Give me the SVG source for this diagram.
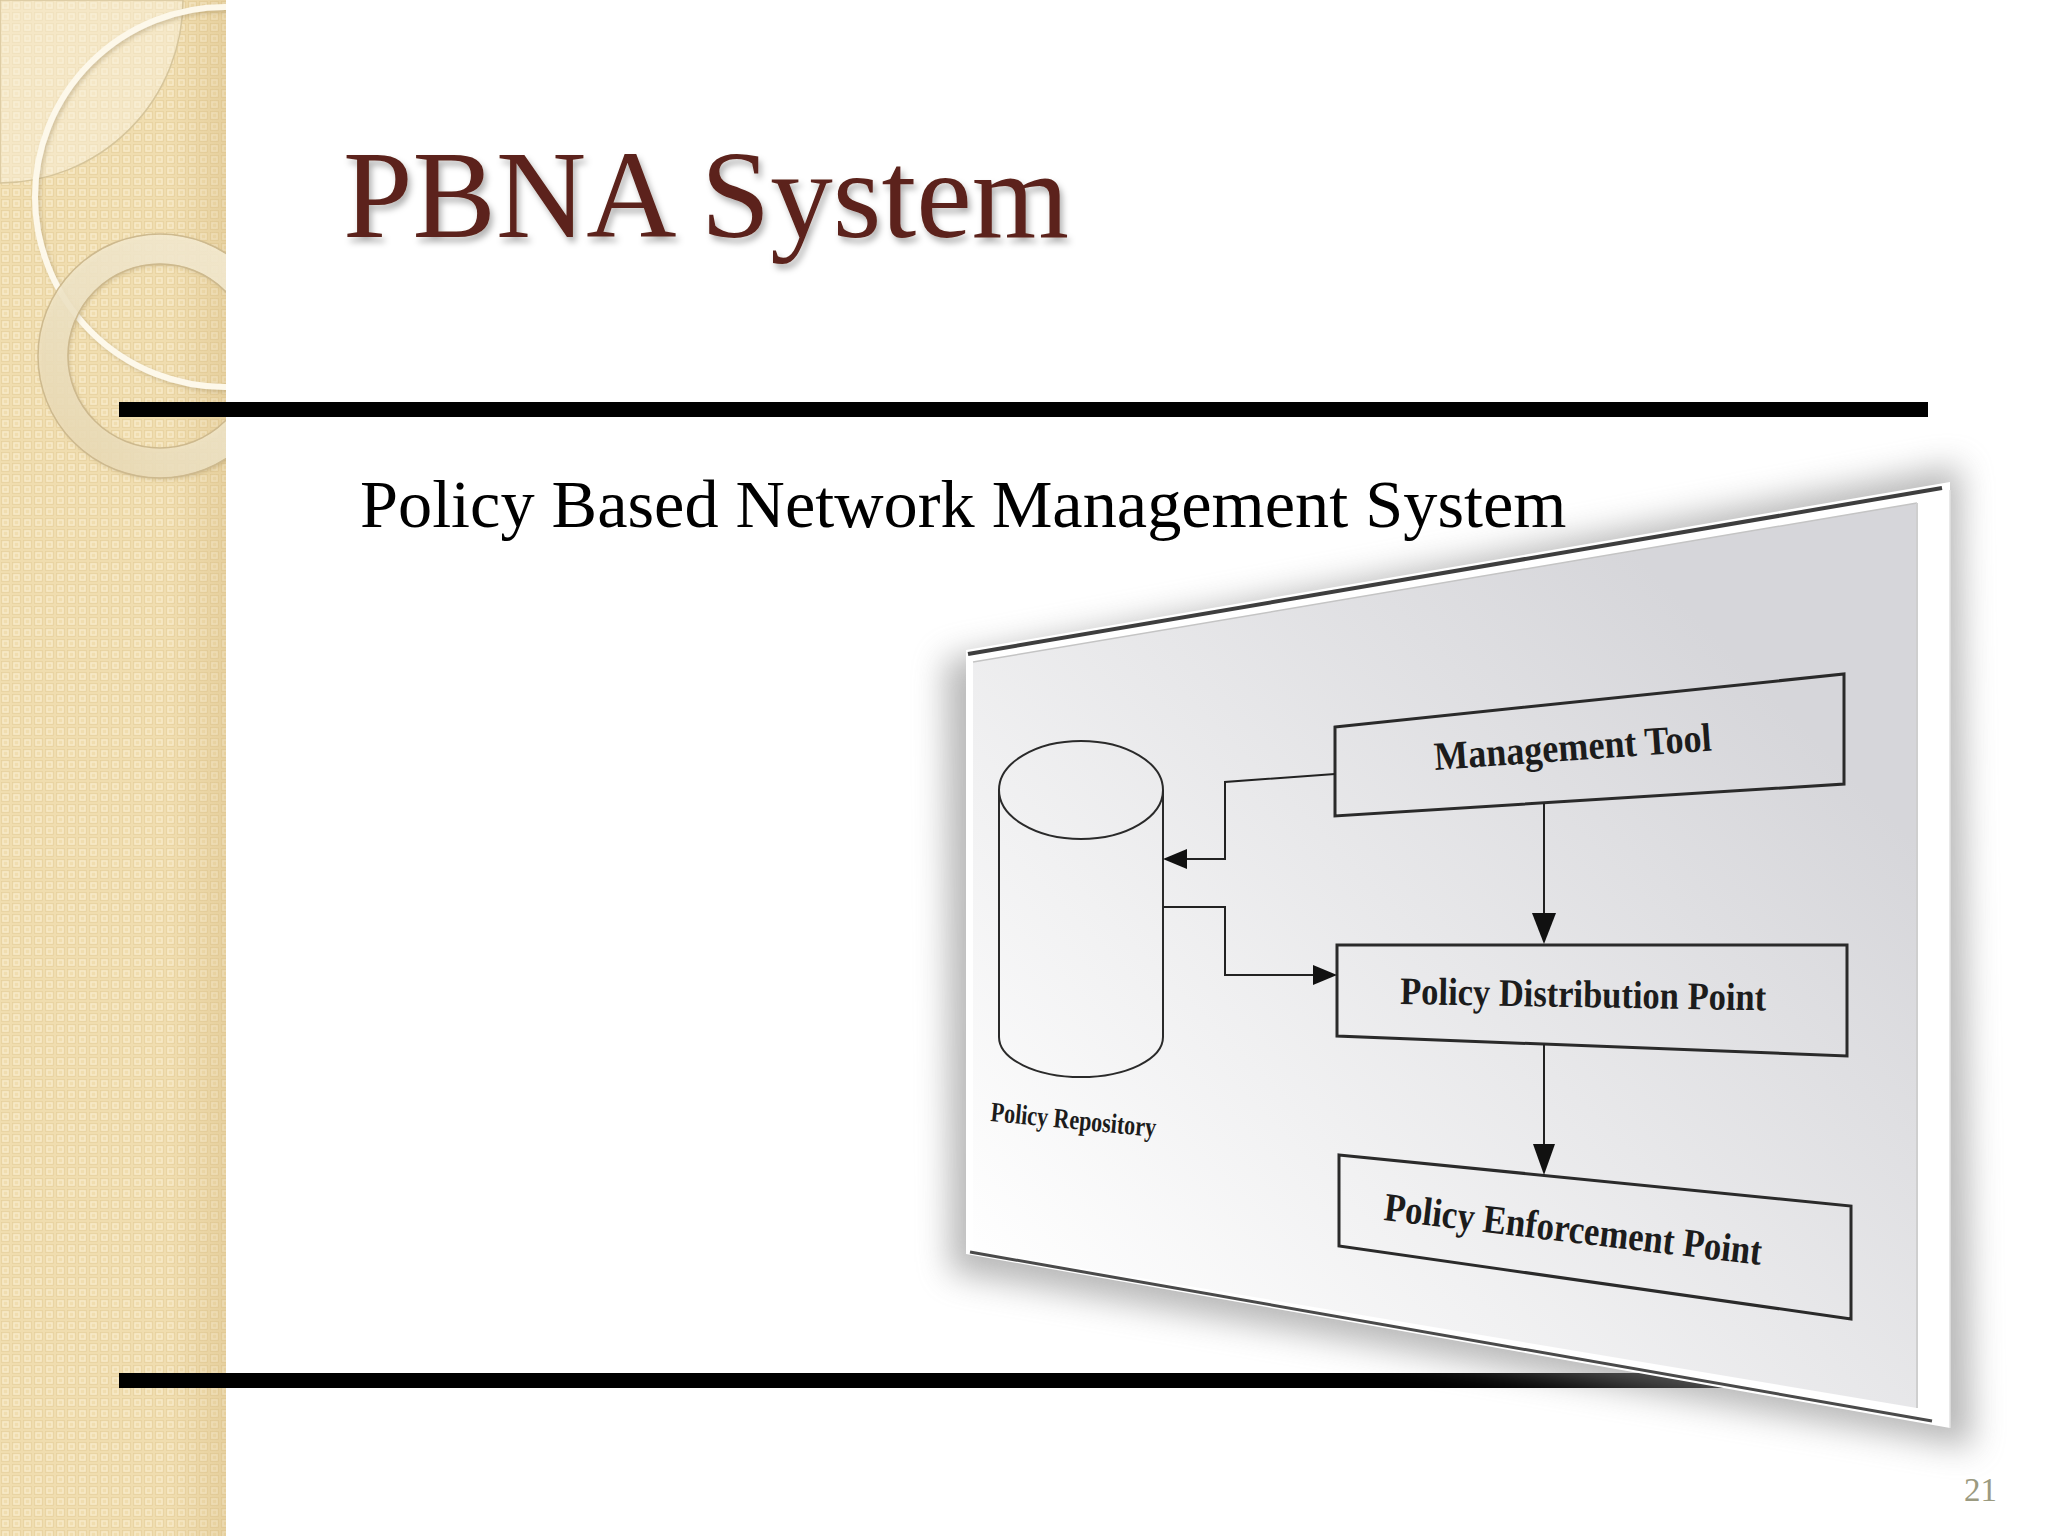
<svg xmlns="http://www.w3.org/2000/svg" width="2048" height="1536" viewBox="0 0 2048 1536">
<defs>
<style>
.box{fill:none;stroke:#2a2a2a;stroke-width:3}
.conn{fill:none;stroke:#222;stroke-width:2}
.head{fill:#111}
.lbl{font-family:"Liberation Serif","Times New Roman",serif;font-weight:bold;fill:#1c1c1c}
</style>
<pattern id="dots" width="11" height="11" patternUnits="userSpaceOnUse">
<rect width="11" height="11" fill="#f0ddaf"/>
<rect x="3" y="3" width="5" height="5" fill="none" stroke="#f8ebcb" stroke-width="1.3"/>
<rect x="1.5" y="1.5" width="8" height="8" fill="none" stroke="#e6d09e" stroke-width="0.7"/>
</pattern>
<linearGradient id="edge" x1="0" y1="0" x2="1" y2="0">
<stop offset="0" stop-color="#c9a86a" stop-opacity="0"/>
<stop offset="1" stop-color="#c9a86a" stop-opacity="0.25"/>
</linearGradient>
<linearGradient id="panelFill" gradientUnits="userSpaceOnUse" x1="1000" y1="1300" x2="1700" y2="620">
<stop offset="0" stop-color="#ffffff"/>
<stop offset="0.35" stop-color="#f1f1f2"/>
<stop offset="1" stop-color="#d6d6da"/>
</linearGradient>
<linearGradient id="ringFill" x1="1" y1="0" x2="0" y2="1">
<stop offset="0" stop-color="#f7eed6"/>
<stop offset="0.6" stop-color="#efe4c6"/>
<stop offset="1" stop-color="#ead9b2"/>
</linearGradient>
<filter id="blur" x="-20%" y="-20%" width="140%" height="140%"><feGaussianBlur stdDeviation="16"/></filter>
<filter id="tshadow" x="-5%" y="-20%" width="110%" height="150%"><feDropShadow dx="3" dy="5" stdDeviation="3" flood-color="#000" flood-opacity="0.3"/></filter>
<filter id="rshadow" x="-20%" y="-20%" width="140%" height="140%"><feDropShadow dx="2" dy="2" stdDeviation="2" flood-color="#8a7448" flood-opacity="0.35"/></filter>
<clipPath id="sideClip"><rect x="0" y="0" width="226" height="1536"/></clipPath>
</defs>

<rect width="2048" height="1536" fill="#ffffff"/>

<g id="sidebar" clip-path="url(#sideClip)">
<rect x="0" y="0" width="226" height="1536" fill="url(#dots)"/>
<rect x="170" y="0" width="56" height="1536" fill="url(#edge)"/>
<path d="M0,0 L183,0 A183,183 0 0 1 0,183 Z" fill="#fbf4e3" fill-opacity="0.45" stroke="#d6c59b" stroke-width="1.5"/>
<circle cx="225" cy="197" r="190" fill="none" stroke="#fdf8ea" stroke-width="6" filter="url(#rshadow)"/>
<circle cx="160" cy="356" r="107" fill="none" stroke="url(#ringFill)" stroke-opacity="0.85" stroke-width="29" filter="url(#rshadow)"/>
<circle cx="160" cy="356" r="122" fill="none" stroke="#cdb98e" stroke-width="1.5"/>
<circle cx="160" cy="356" r="92" fill="none" stroke="#cdb98e" stroke-width="1.5"/>
</g>

<g id="title">
<text x="343" y="237" font-family="'Liberation Serif','Times New Roman',serif" font-size="125" fill="#5b231a" filter="url(#tshadow)">PBNA System</text>
</g>

<g id="rules">
<rect x="119" y="402" width="1809" height="15" fill="#000"/>
<rect x="119" y="1373" width="1809" height="15" fill="#000"/>
</g>

<g id="subtitle">
<text x="360" y="527" font-family="'Liberation Serif','Times New Roman',serif" font-size="68.3" fill="#000">Policy Based Network Management System</text>
</g>

<g id="panel">
<polygon points="945,660 1960,465 1972,1448 950,1272" fill="#8a8a8a" opacity="0.6" filter="url(#blur)"/>
<polygon points="966,650 1950,482 1950,1428 966,1254" fill="#ffffff"/>
<polygon points="973,662 1917,503 1917,1408 973,1250" fill="url(#panelFill)"/>
<line x1="968" y1="654" x2="1942" y2="488" stroke="#3e3e3e" stroke-width="4"/>
<line x1="973" y1="662" x2="1917" y2="503" stroke="#c4c4c4" stroke-width="1.5"/>
<line x1="1917" y1="503" x2="1917" y2="1408" stroke="#cfcfcf" stroke-width="2"/>
<line x1="1950" y1="490" x2="1950" y2="1428" stroke="#e2e2e2" stroke-width="1.5"/>
<line x1="970" y1="1252" x2="1932" y2="1421" stroke="#4a4a4a" stroke-width="3"/>
</g>

<g id="node-repository">
<path d="M999,790 L999,1037 A82,40 0 0 0 1163,1037 L1163,790" fill="none" stroke="#2a2a2a" stroke-width="2"/>
<ellipse cx="1081" cy="790" rx="82" ry="49" fill="none" stroke="#2a2a2a" stroke-width="2"/>
<text class="lbl" x="990" y="1121" font-size="28" textLength="166" lengthAdjust="spacingAndGlyphs" transform="rotate(5.5 990 1121)">Policy Repository</text>
</g>

<g id="node-management-tool">
<polygon class="box" points="1335,727 1844,674 1844,784 1335,816"/>
<text class="lbl" x="1435" y="770" font-size="40" textLength="278" lengthAdjust="spacingAndGlyphs" transform="rotate(-4 1435 770)">Management Tool</text>
</g>

<g id="node-pdp">
<polygon class="box" points="1337,945 1847,945 1847,1056 1337,1036"/>
<text class="lbl" x="1400" y="1004" font-size="39" textLength="366" lengthAdjust="spacingAndGlyphs" transform="rotate(1 1400 1004)">Policy Distribution Point</text>
</g>

<g id="node-pep">
<polygon class="box" points="1339,1155 1851,1206 1851,1319 1339,1246"/>
<text class="lbl" x="1383" y="1220" font-size="40" textLength="380" lengthAdjust="spacingAndGlyphs" transform="rotate(6.8 1383 1220)">Policy Enforcement Point</text>
</g>

<g id="connectors">
<polyline class="conn" points="1335,774 1225,782 1225,859 1185,859"/>
<polygon class="head" points="1163,859 1187,849 1187,869"/>
<polyline class="conn" points="1163,907 1225,907 1225,975 1315,975"/>
<polygon class="head" points="1337,975 1313,965 1313,985"/>
<line class="conn" x1="1544" y1="803" x2="1544" y2="915"/>
<polygon class="head" points="1544,944 1532,913 1556,913"/>
<line class="conn" x1="1544" y1="1044" x2="1544" y2="1146"/>
<polygon class="head" points="1544,1175 1533,1144 1555,1144"/>
</g>

<g id="page-number">
<text x="1964" y="1501" font-family="'Liberation Serif','Times New Roman',serif" font-size="33" fill="#9b9a80">21</text>
</g>
</svg>
